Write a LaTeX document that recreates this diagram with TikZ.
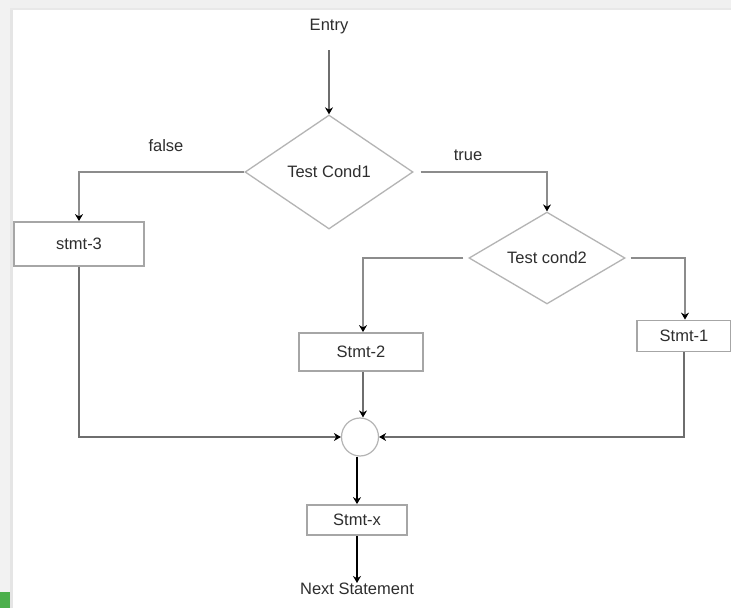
\documentclass[tikz,border=0pt]{standalone}
\usepackage{fontspec}
\setmainfont{Liberation Sans}
\usetikzlibrary{shapes.geometric,arrows.meta}
\definecolor{boxgray}{HTML}{A6A6A6}
\definecolor{linegray}{HTML}{8C8C8C}
\definecolor{darkline}{HTML}{6E6E6E}
\definecolor{diagray}{HTML}{B4B4B4}
\definecolor{txt}{HTML}{2E2E2E}
\tikzset{
  every node/.style={font=\fontsize{16.5}{18}\selectfont, text=txt},
  stmtbox/.style={draw=boxgray, line width=1.8pt, rectangle, inner sep=0pt},
  decision/.style={draw=diagray, line width=1.3pt, diamond, inner sep=0pt, aspect=1},
  joiner/.style={draw=diagray, line width=1.2pt, ellipse, inner sep=0pt, minimum width=37pt, minimum height=38pt},
  conn/.style={draw=linegray, line width=1.8pt, -{Stealth[length=7pt,width=8pt,black]}},
  darkconn/.style={draw=darkline, line width=2.6pt, -{Stealth[length=7pt,width=8pt,black]}},
  lbl/.style={inner sep=0pt}
}
\begin{document}
\begin{tikzpicture}[x=1pt,y=-1pt]
\useasboundingbox (0,0) rectangle (731,608);
\fill[white] (0,0) rectangle (731,608);
% screenshot frame
\fill[gray!12] (0,0) rectangle (731,8);
\fill[gray!18] (0,8) rectangle (731,10);
\fill[gray!10] (0,0) rectangle (10,608);
\fill[gray!20] (10,10) rectangle (13,608);
\fill[green!55!black!70] (0,592) rectangle (10,608);

\node[lbl] (entry) at (329,27) {Entry};
\coordinate (entryend) at (329,50);
\node[decision, minimum width=168pt, minimum height=114pt] (d1) at (329,172) {Test Cond1};
\node[decision, minimum width=156pt, minimum height=89pt] (d2) at (547,258) {Test cond2};
\node[stmtbox, minimum width=130pt, minimum height=44pt] (s3) at (79,244) {stmt-3};
\node[stmtbox, minimum width=124pt, minimum height=38pt] (s2) at (361,352) {Stmt-2};
\node[stmtbox, minimum width=94pt, minimum height=31pt] (s1) at (684,336) {Stmt-1};
\node[joiner] (c) at (360,437) {};
\node[stmtbox, minimum width=100pt, minimum height=30pt] (sx) at (357,520) {Stmt-x};
\node[lbl] (next) at (357,589) {Next Statement};

\node[lbl] (falselbl) at (166,146) {false};
\node[lbl] (truelbl) at (468,155) {true};

\draw[darkconn, line width=2pt] (entryend) -- (d1.north);
\draw[conn] (d1.west) -| (s3.north);
\draw[conn, shorten <=7pt] (d1.east) -| (d2.north);
\draw[conn, shorten <=5pt] (d2.west) -| ([xshift=2pt]s2.north);
\draw[conn, shorten <=5pt] (d2.east) -| ([xshift=1pt]s1.north);
\draw[darkconn] ([xshift=2pt]s2.south) -- ([xshift=2pt]s2.south |- c.north);
\draw[darkconn] (s3.south) |- (c.west);
\draw[darkconn] (s1.south) |- (c.east);
\draw[conn, draw=black, line width=1.6pt] ([xshift=-3pt]c.south) -- ([xshift=-3pt]c.south |- sx.north);
\draw[conn, draw=black, line width=1.6pt] (sx.south) -- (next.north);
\end{tikzpicture}
\end{document}
